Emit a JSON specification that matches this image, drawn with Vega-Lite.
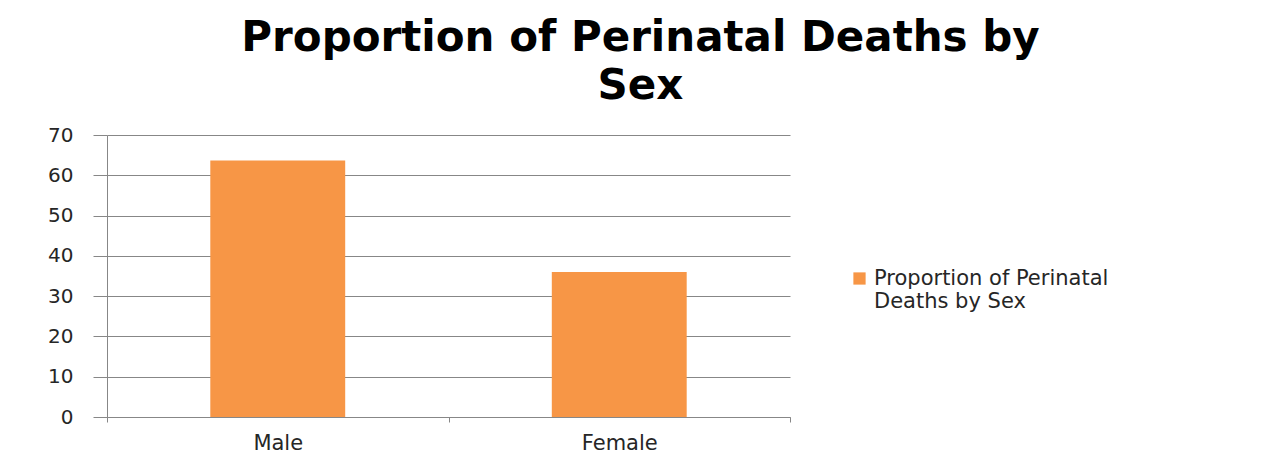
{
  "$schema": "https://vega.github.io/schema/vega-lite/v6.json",
  "width": 683,
  "height": 282,
  "autosize": {"type": "none"},
  "padding": {"left": 107, "top": 135, "right": 480, "bottom": 47},
  "background": "white",
  "title": {
    "text": ["Proportion of Perinatal Deaths by", "Sex"],
    "font": "DejaVu Sans",
    "fontSize": 42,
    "fontWeight": "bold",
    "color": "#000000",
    "anchor": "middle",
    "dx": 192,
    "offset": 17,
    "lineHeight": 48
  },
  "data": {
    "values": [
      {"sex": "Male", "value": 63.7, "series": "Proportion of Perinatal Deaths by Sex"},
      {"sex": "Female", "value": 36.0, "series": "Proportion of Perinatal Deaths by Sex"}
    ]
  },
  "mark": {"type": "bar", "width": {"band": 0.395}},
  "encoding": {
    "x": {
      "field": "sex",
      "type": "nominal",
      "sort": ["Male", "Female"],
      "scale": {"paddingInner": 0, "paddingOuter": 0},
      "axis": {
        "title": null,
        "labelAngle": 0,
        "tickBand": "extent",
        "tickSize": 5,
        "labelPadding": 10,
        "labelFontSize": 21,
        "labelFont": "DejaVu Sans",
        "labelColor": "#262626",
        "domainColor": "#878787",
        "tickColor": "#878787",
        "grid": false
      }
    },
    "y": {
      "field": "value",
      "type": "quantitative",
      "scale": {"domain": [0, 70]},
      "axis": {
        "title": null,
        "values": [0, 10, 20, 30, 40, 50, 60, 70],
        "tickSize": 14,
        "labelPadding": 20,
        "labelFontSize": 20,
        "labelFont": "DejaVu Sans",
        "labelColor": "#262626",
        "domainColor": "#878787",
        "tickColor": "#878787",
        "gridColor": "#878787",
        "gridOpacity": 1
      }
    },
    "color": {
      "field": "series",
      "type": "nominal",
      "scale": {"range": ["#F79646"]},
      "legend": {
        "title": null,
        "orient": "none",
        "legendX": 742,
        "legendY": 133,
        "symbolType": "square",
        "symbolSize": 150,
        "symbolOpacity": 1,
        "labelFontSize": 21,
        "labelFont": "DejaVu Sans",
        "labelColor": "#262626",
        "labelLimit": 500,
        "labelExpr": "['Proportion of Perinatal', 'Deaths by Sex']"
      }
    }
  },
  "config": {
    "view": {"stroke": null}
  }
}
